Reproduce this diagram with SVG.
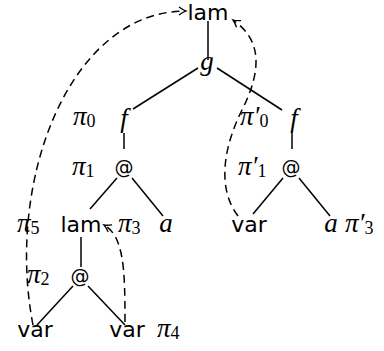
<svg xmlns="http://www.w3.org/2000/svg" width="384" height="351" viewBox="0 0 384 351">
<style>
.sf{font-family:"DejaVu Sans",sans-serif;font-size:22px;fill:#000;text-anchor:middle}
.at{font-family:"DejaVu Sans",sans-serif;font-size:19px;fill:#000;text-anchor:middle}
.mi{font-family:"Liberation Serif",serif;font-style:italic;font-size:27px;fill:#000}
.mid{text-anchor:middle}
.sub{font-family:"Liberation Serif",serif;font-style:normal;font-size:18px}
.edge{stroke:#000;stroke-width:1.5;fill:none}
.dash{stroke:#000;stroke-width:1.5;fill:none;stroke-dasharray:8 5;marker-end:url(#arr)}
</style>
<defs>
<marker id="arr" markerUnits="userSpaceOnUse" markerWidth="14" markerHeight="14" refX="0" refY="0" viewBox="-10 -7 14 14" orient="auto">
<path d="M -7 -4 Q -3 -1 0 0 Q -3 1 -7 4" fill="none" stroke="#000" stroke-width="1.3" stroke-dasharray="none"/>
</marker>
</defs>
<g id="connectors">
<line class="edge" x1="208" y1="21" x2="208" y2="60"/>
<line class="edge" x1="198" y1="68" x2="133" y2="109"/>
<line class="edge" x1="217" y1="68" x2="282" y2="110"/>
<line class="edge" x1="124" y1="133" x2="124" y2="149"/>
<line class="edge" x1="117" y1="178" x2="90" y2="209"/>
<line class="edge" x1="132" y1="178" x2="163" y2="216"/>
<line class="edge" x1="81" y1="237" x2="81" y2="267"/>
<line class="edge" x1="73" y1="286" x2="37" y2="325"/>
<line class="edge" x1="88" y1="286" x2="125" y2="325"/>
<line class="edge" x1="292" y1="133" x2="292" y2="149"/>
<line class="edge" x1="283" y1="178" x2="253" y2="214"/>
<line class="edge" x1="299" y1="178" x2="330" y2="216"/>
<path class="dash" d="M 33 325 C 5 180, 70 11, 186 11"/>
<path class="dash" d="M 238 216 C 218 190, 222 150, 242 110 C 262 70, 262 40, 233 20"/>
<path class="dash" d="M 125 322 C 125 270, 124 236, 104 225"/>
</g>
<g id="lam_top"><text class="sf" x="208" y="20">lam</text></g>
<g id="g"><text class="mi mid" x="207" y="70">g</text></g>
<g id="f_left"><text class="mi mid" x="124" y="127">f</text><text class="mi" x="73" y="125">π<tspan class="sub" dy="2">0</tspan></text></g>
<g id="at_left"><text class="at" x="124" y="174">@</text><text class="mi" x="72" y="175">π<tspan class="sub" dy="2">1</tspan></text></g>
<g id="lam_mid"><text class="sf" x="81" y="232">lam</text><text class="mi" x="17" y="232">π<tspan class="sub" dy="2">5</tspan></text><text class="mi" x="118" y="232">π<tspan class="sub" dy="2">3</tspan></text></g>
<g id="a_left"><text class="mi mid" x="166" y="232">a</text></g>
<g id="at_low"><text class="at" x="80" y="283">@</text><text class="mi" x="27" y="283">π<tspan class="sub" dy="2">2</tspan></text></g>
<g id="var_ll"><text class="sf" x="35" y="337">var</text></g>
<g id="var_lr"><text class="sf" x="127" y="337">var</text><text class="mi" x="157" y="337">π<tspan class="sub" dy="2">4</tspan></text></g>
<g id="f_right"><text class="mi mid" x="294" y="127">f</text><text class="mi" x="240" y="125">π′<tspan class="sub" dy="2">0</tspan></text></g>
<g id="at_right"><text class="at" x="291" y="174">@</text><text class="mi" x="238" y="175">π′<tspan class="sub" dy="2">1</tspan></text></g>
<g id="var_r"><text class="sf" x="249" y="232">var</text></g>
<g id="a_right"><text class="mi mid" x="331" y="232">a</text><text class="mi" x="345" y="232">π′<tspan class="sub" dy="2">3</tspan></text></g>
</svg>
